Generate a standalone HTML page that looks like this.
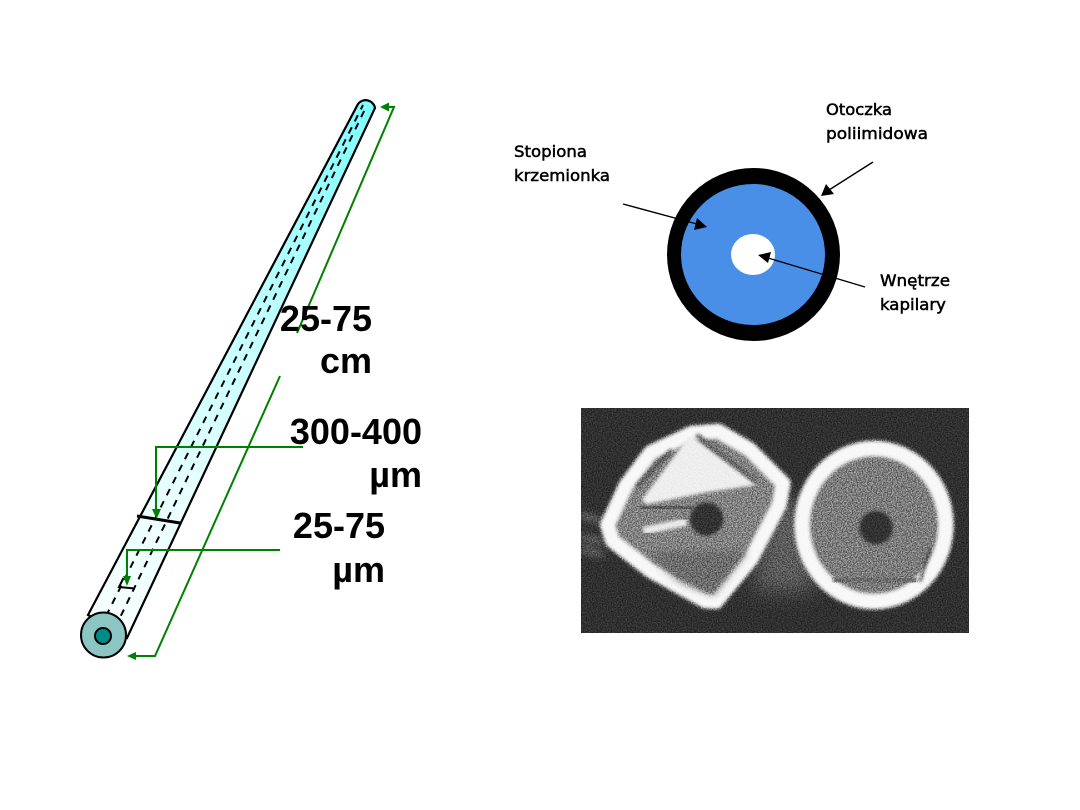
<!DOCTYPE html>
<html>
<head>
<meta charset="utf-8">
<style>
html,body{margin:0;padding:0;background:#fff;width:1080px;height:810px;overflow:hidden}
svg{display:block}
.big{font-family:"Liberation Sans",sans-serif;font-weight:700;font-size:36px;fill:#000;text-anchor:end}
.lab{font-family:"DejaVu Sans","Liberation Sans",sans-serif;font-size:16px;fill:#000;stroke:#000;stroke-width:.5}
</style>
</head>
<body>
<svg width="1080" height="810" viewBox="0 0 1080 810" xmlns="http://www.w3.org/2000/svg">
<defs>
<linearGradient id="tube" gradientUnits="userSpaceOnUse" x1="103" y1="635" x2="366" y2="108">
<stop offset="0" stop-color="#f8ffff"/>
<stop offset=".25" stop-color="#eaffff"/>
<stop offset=".6" stop-color="#c0ffff"/>
<stop offset="1" stop-color="#80ffff"/>
</linearGradient>
<filter id="b1" x="-20%" y="-20%" width="140%" height="140%"><feGaussianBlur stdDeviation="5"/></filter>
<filter id="b2" x="-30%" y="-30%" width="160%" height="160%"><feGaussianBlur stdDeviation="12"/></filter>
<filter id="b3" x="-50%" y="-50%" width="200%" height="200%"><feGaussianBlur stdDeviation="30"/></filter>
<filter id="noise" x="0" y="0" width="100%" height="100%" color-interpolation-filters="sRGB">
<feTurbulence type="fractalNoise" baseFrequency="0.8" numOctaves="2" seed="4"/>
<feColorMatrix type="matrix" values="1 0 0 0 0  1 0 0 0 0  1 0 0 0 0  0 0 0 0 1"/>
<feComponentTransfer>
<feFuncR type="linear" slope="2.4" intercept="-0.7"/>
<feFuncG type="linear" slope="2.4" intercept="-0.7"/>
<feFuncB type="linear" slope="2.4" intercept="-0.7"/>
</feComponentTransfer>
</filter>
<clipPath id="pc"><rect x="581" y="408" width="388" height="225"/></clipPath>
</defs>

<!-- Capillary tube -->
<path d="M88,615 L358,104 A9.500,9.500 0 0 1 375,108 L127,638 Z" fill="url(#tube)" stroke="#000" stroke-width="2.200"/>
<line x1="100" y1="628" x2="363" y2="105" stroke="#000" stroke-width="2" stroke-dasharray="7 6.500"/>
<line x1="115" y1="628" x2="367" y2="105" stroke="#000" stroke-width="2" stroke-dasharray="7 6.500"/>
<circle cx="103.500" cy="635" r="22.500" fill="#8cc6c2" stroke="#000" stroke-width="2"/>
<circle cx="103" cy="636" r="8" fill="#008b8b" stroke="#000" stroke-width="2"/>
<line x1="137" y1="516" x2="180" y2="523" stroke="#000" stroke-width="3"/>
<path d="M123.500,578 L119,587 L135,588.500" fill="none" stroke="#000" stroke-width="2"/>

<!-- Green dimension lines -->
<g fill="none" stroke="#008000" stroke-width="2">
<path d="M385,107 H394 L297,333"/>
<path d="M280,376 L155,656 H134"/>
<path d="M303,447 H156 V510"/>
<path d="M280,550 H127 V577"/>
</g>
<g fill="#008000">
<path d="M380,107 L389,102.500 V111.500 Z"/>
<path d="M127,656 L136,652 V660 Z"/>
<path d="M156.500,519 L152,509 H161 Z"/>
<path d="M127,586 L123,576 H131 Z"/>
</g>

<!-- Dimension labels -->
<text class="big" x="372" y="331">25-75</text>
<text class="big" x="372" y="373">cm</text>
<text class="big" x="422" y="444">300-400</text>
<text class="big" x="422" y="487">µm</text>
<text class="big" x="385" y="538">25-75</text>
<text class="big" x="385" y="582">µm</text>

<!-- Cross-section -->
<circle cx="753.500" cy="254.500" r="86.500" fill="#000"/>
<ellipse cx="753" cy="254.500" rx="72" ry="70.500" fill="#4a8fe7"/>
<ellipse cx="753" cy="254.500" rx="22" ry="20.500" fill="#fff"/>
<g stroke="#000" stroke-width="1.400" fill="none">
<line x1="873" y1="162" x2="829" y2="190"/>
<line x1="623" y1="204" x2="697" y2="224"/>
<line x1="865" y1="287" x2="768" y2="258"/>
</g>
<g fill="#000">
<path d="M821,196 L826,184 L834,194 Z"/>
<path d="M707,227 L694,230 L697,218 Z"/>
<path d="M758,255 L771,252 L768,263 Z"/>
</g>
<text class="lab" x="514" y="157" textLength="73" lengthAdjust="spacingAndGlyphs">Stopiona</text>
<text class="lab" x="514" y="181" textLength="96" lengthAdjust="spacingAndGlyphs">krzemionka</text>
<text class="lab" x="826" y="115" textLength="66" lengthAdjust="spacingAndGlyphs">Otoczka</text>
<text class="lab" x="826" y="139" textLength="102" lengthAdjust="spacingAndGlyphs">poliimidowa</text>
<text class="lab" x="880" y="286" textLength="70" lengthAdjust="spacingAndGlyphs">Wnętrze</text>
<text class="lab" x="880" y="310" textLength="66" lengthAdjust="spacingAndGlyphs">kapilary</text>

<!-- Photo of capillaries -->
<g clip-path="url(#pc)">
<rect x="581" y="408" width="388" height="225" fill="#303030"/>
<g transform="translate(580 405) scale(.33333)">
<path d="M560,280 L720,300 L700,560 L520,560 Z" fill="#5c5c5c" filter="url(#b3)"/>
<path d="M0,330 L70,350 M0,395 L70,410 M0,430 L70,450" stroke="#8a8a8a" stroke-width="12" filter="url(#b2)" fill="none"/>
<path d="M82,360 L138,240 L212,142 L335,84 L415,78 L508,132 L610,235 L598,300 L513,463 L408,590 L375,588 L212,498 L97,408 Z" fill="#828282" stroke="#f8f8f8" stroke-width="44" stroke-linejoin="round" filter="url(#b1)"/>
<path d="M185,285 L330,90 L530,240 L380,262 L200,298 Z" fill="#eeeeee" filter="url(#b1)"/>
<path d="M170,245 L275,135" stroke="#555" stroke-width="12" filter="url(#b1)"/>
<path d="M350,90 L530,230" stroke="#666" stroke-width="14" filter="url(#b1)"/>
<path d="M150,270 L150,400" stroke="#404040" stroke-width="36" filter="url(#b1)"/>
<path d="M190,378 L320,350" stroke="#eaeaea" stroke-width="24" filter="url(#b1)"/>
<path d="M180,310 L340,305" stroke="#5a5a5a" stroke-width="30" filter="url(#b1)"/>
<path d="M200,440 L500,440 L400,570 L300,530 Z" fill="#6c6c6c" filter="url(#b2)"/>
<ellipse cx="380" cy="342" rx="50" ry="50" fill="#303030" filter="url(#b1)"/>
<ellipse cx="882" cy="360" rx="216" ry="230" fill="#7c7c7c" stroke="#f8f8f8" stroke-width="46" filter="url(#b1)"/>
<path d="M700,320 L860,320" stroke="#a8a8a8" stroke-width="8" filter="url(#b1)"/>
<path d="M700,345 L840,345" stroke="#5c5c5c" stroke-width="26" filter="url(#b1)"/>
<path d="M760,520 L1010,530" stroke="#6c6c6c" stroke-width="30" filter="url(#b1)"/>
<path d="M1050,430 L1020,530" stroke="#484848" stroke-width="8" filter="url(#b1)"/>
<ellipse cx="888" cy="368" rx="50" ry="50" fill="#303030" filter="url(#b1)"/>
</g>
<rect x="581" y="408" width="388" height="225" filter="url(#noise)" opacity=".45" style="mix-blend-mode:overlay"/>
</g>
</svg>
</body>
</html>
